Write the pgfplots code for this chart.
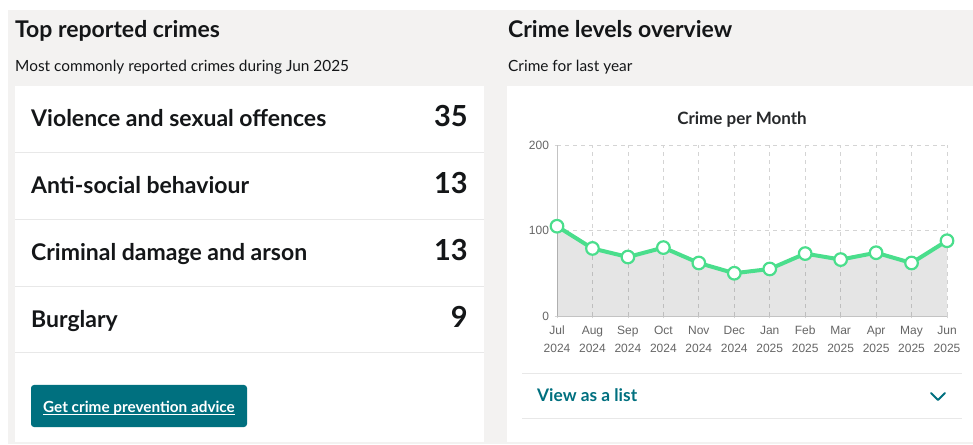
\documentclass[border=0pt]{standalone}
\usepackage{pgfplots}
\pgfplotsset{compat=1.18}
\usepackage{fontspec}
\setmainfont{Lato}
\newfontfamily\arial{Liberation Sans}

\definecolor{panelgrey}{RGB}{243,242,241}
\definecolor{ink}{RGB}{20,22,24}
\definecolor{teal}{RGB}{0,112,127}
\definecolor{rule}{RGB}{232,232,232}
\definecolor{gridc}{RGB}{212,212,212}
\definecolor{tickc}{RGB}{102,102,102}
\definecolor{mint}{RGB}{74,222,140}

\newcommand{\fs}[1]{\fontsize{#1}{#1}\selectfont}

\begin{document}
\begin{tikzpicture}[x=1pt,y=1pt]
\useasboundingbox (0,0) rectangle (973,444);
% background panels
\fill[white] (0,0) rectangle (973,444);
\fill[panelgrey] (8,0) rectangle (973,434);
\fill[white] (15,2) rectangle (484,358);
\fill[white] (507,2) rectangle (973,358);

% left panel
\node[anchor=base west, inner sep=0, text=ink] at (15,406) {\fs{23}\bfseries Top reported crimes};
\node[anchor=base west, inner sep=0, text=ink] at (15,372) {\fs{15.4}Most commonly reported crimes during Jun 2025};
\foreach \yy/\lab/\num in {317/Violence and sexual offences/35, 250/Anti-social behaviour/13, 183/Criminal damage and arson/13, 116/Burglary/9}{
  \node[anchor=base west, inner sep=0, text=ink] at (31,\yy) {\fs{23}\bfseries \lab};
  \node[anchor=base east, inner sep=0, text=ink] at (468,\yy) {\fs{29}\bfseries \num};
}
\foreach \yy in {291,224,157,91}{
  \draw[rule, line width=1pt] (15,\yy) -- (484,\yy);
}
\fill[teal, rounded corners=3pt] (31,17) rectangle (247,59);
\node[anchor=base west, inner sep=0, text=white] (btn) at (43,32) {\fs{15.3}\bfseries Get crime prevention advice};
\draw[white, line width=0.8pt] ([yshift=-2.5pt]btn.base west) -- ([yshift=-2.5pt]btn.base east);

% right panel
\node[anchor=base west, inner sep=0, text=ink] at (508,406) {\fs{23}\bfseries Crime levels overview};
\node[anchor=base west, inner sep=0, text=ink] at (508,372) {\fs{15.4}Crime for last year};
\node[anchor=base, inner sep=0, text=ink!92] at (742,319) {\fs{17}\bfseries Crime per Month};

\begin{axis}[
  at={(557pt,128pt)}, anchor=south west,
  width=390pt, height=171pt, scale only axis,
  xmin=0, xmax=11, ymin=0, ymax=200,
  axis x line=bottom, axis y line=left,
  axis line style={draw=gridc!80!gray, line width=0.8pt, -},
  xtick={0,...,11},
  xticklabels={Jul\\2024,Aug\\2024,Sep\\2024,Oct\\2024,Nov\\2024,Dec\\2024,Jan\\2025,Feb\\2025,Mar\\2025,Apr\\2025,May\\2025,Jun\\2025},
  ytick={0,100,200}, yticklabels={0,100,200},
  xticklabel style={align=center, font=\arial\fs{12}\linespread{1.5}\selectfont, text=tickc, yshift=-4pt},
  yticklabel style={font=\arial\fs{12}, text=tickc, xshift=-2pt},
  major tick length=5pt,
  tick style={draw=gridc, line width=0.8pt},
  xmajorgrids, ymajorgrids,
  grid style={draw=gridc, line width=0.8pt, dash pattern=on 4pt off 4pt},
  clip=false,
]
\addplot[draw=none, fill=black, fill opacity=0.1] coordinates {
  (0,105) (1,79) (2,69) (3,80) (4,62) (5,50) (6,55) (7,73) (8,66) (9,74) (10,62) (11,88)
} \closedcycle;
\addplot[mint, line width=4pt, line join=round, mark=*, mark size=6.3pt,
  mark options={fill=white, draw=mint, line width=2.2pt}] coordinates {
  (0,105) (1,79) (2,69) (3,80) (4,62) (5,50) (6,55) (7,73) (8,66) (9,74) (10,62) (11,88)
};
\end{axis}

\draw[rule, line width=1pt] (522,70) -- (962,70);
\draw[rule, line width=1pt] (522,26) -- (962,26);
\node[anchor=base west, inner sep=0, text=teal] at (537,42) {\fs{17.3}\bfseries View as a list};
\draw[teal, line width=2pt, line cap=round, line join=round] (931,51) -- (938,44) -- (945,51);
\end{tikzpicture}
\end{document}
